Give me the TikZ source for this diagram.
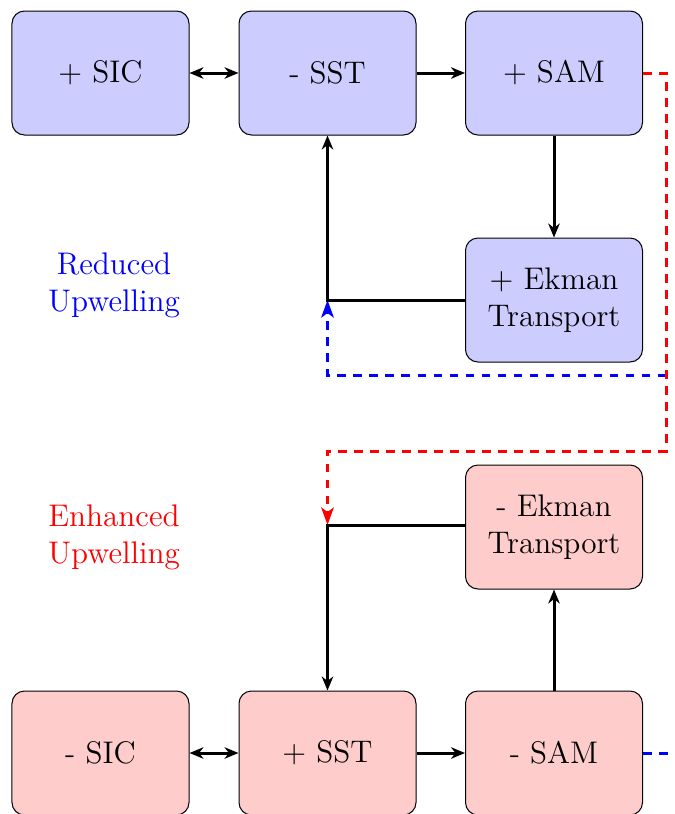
\documentclass[tikz,border=0pt]{standalone}
\usetikzlibrary{arrows.meta}
\begin{document}
\begin{tikzpicture}[x=0.4pt,y=-0.4pt,
  box/.style={draw, rounded corners=5pt, minimum width=70.8pt, minimum height=49.6pt, align=center, font=\fontsize{12.5}{14.8}\selectfont},
  posbox/.style={box, fill=blue!20},
  negbox/.style={box, fill=red!20},
  conn/.style={line width=1.2pt, -{Stealth[length=5.6pt,width=4.6pt,inset=1.8pt]}},
  biconn/.style={line width=1.2pt, {Stealth[length=5.6pt,width=4.6pt,inset=1.8pt]}-{Stealth[length=5.6pt,width=4.6pt,inset=1.8pt]}},
  dconn/.style={line width=1.2pt, dash pattern=on 3.4pt off 3pt},
  lbl/.style={align=center, font=\fontsize{12.5}{14.8}\selectfont}]
\useasboundingbox (0,0) rectangle (674,814);
\clip (0,0) rectangle (674,814);
% top row
\node[posbox] (sicA) at (100.5,73) {+ SIC};
\node[posbox] (sstA) at (327.5,73) {- SST};
\node[posbox] (samA) at (554,73) {+ SAM};
\node[posbox] (ekA) at (554,300) {+ Ekman\\Transport};
% bottom row
\node[negbox] (ekB) at (554,527) {- Ekman\\Transport};
\node[negbox] (sicB) at (100.5,753) {- SIC};
\node[negbox] (sstB) at (327.5,753) {+ SST};
\node[negbox] (samB) at (554,753) {- SAM};
% labels
\node[lbl, text=blue] (red) at (114,285) {Reduced\\Upwelling};
\node[lbl, text=red] (enh) at (114,537) {Enhanced\\Upwelling};
% coordinates
\coordinate (jA) at (327.5,300);
\coordinate (jB) at (327.5,525);
\coordinate (bR) at (666,375);
\coordinate (bL) at (327.5,375);
\coordinate (bE) at (674,753);
\coordinate (r1) at (666,73);
\coordinate (r2) at (666,451);
\coordinate (r3) at (327.5,451);
% blue dashed
\draw[dconn, blue] (bR) -- (bL) -- (jA);
\draw[blue, -{Stealth[length=7pt,width=5pt,inset=1.8pt]}, line width=1.2pt] (327.5,314) -- (jA);
\draw[dconn, blue] (samB.east) -- (bE);
% red dashed
\draw[dconn, red] (samA.east |- r1) -- (r1) -- (r2) -- (r3) -- (jB);
\draw[red, -{Stealth[length=7pt,width=5pt,inset=1.8pt]}, line width=1.2pt] (327.5,511) -- (jB);
% black connectors
\draw[biconn] (sicA) -- (sstA);
\draw[conn] (sstA) -- (samA);
\draw[conn] (samA) -- (ekA);
\draw[conn] (ekA.west) -- (jA) -- (sstA.south);
\draw[biconn] (sicB) -- (sstB);
\draw[conn] (sstB) -- (samB);
\draw[conn] (samB) -- (ekB);
\draw[conn] (ekB.west |- jB) -- (jB) -- (sstB.north);
\end{tikzpicture}
\end{document}
